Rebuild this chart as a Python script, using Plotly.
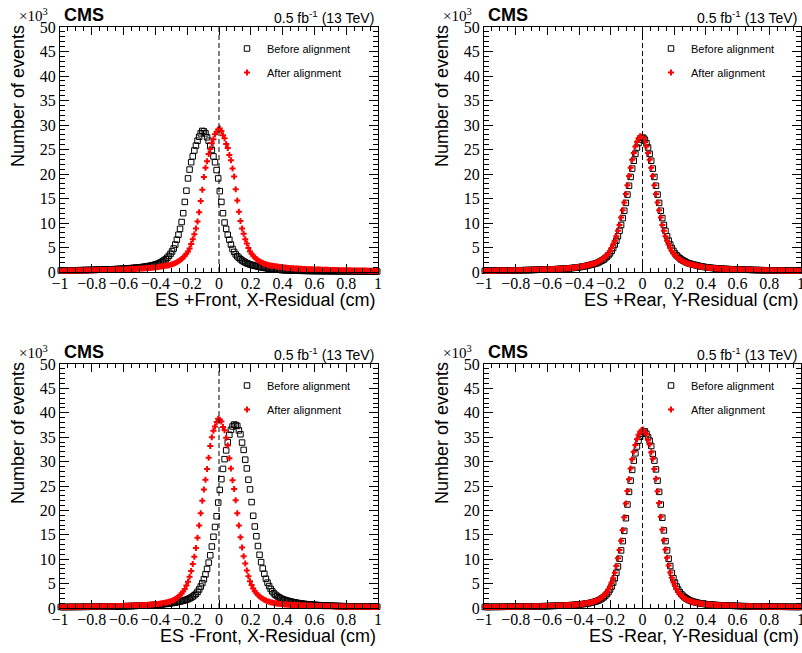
import plotly.graph_objects as go

# ---------------- data (events per 0.01 cm bin, in units of 10^3) ----------------
N_BINS = 200
X_MIN, X_MAX = -1.0, 1.0
bin_centers = [round(X_MIN + (i + 0.5) * (X_MAX - X_MIN) / N_BINS, 4) for i in range(N_BINS)]

x_titles = ["ES +Front, X-Residual (cm)", "ES +Rear, Y-Residual (cm)",
            "ES -Front, X-Residual (cm)", "ES -Rear, Y-Residual (cm)"]
series_names = ["Before alignment", "After alignment"]
y_tick_vals = [0, 5, 10, 15, 20, 25, 30, 35, 40, 45, 50]

before_front_plus = [
    0.30, 0.31, 0.30, 0.32, 0.32, 0.33, 0.34, 0.33, 0.35, 0.35,
    0.36, 0.37, 0.37, 0.38, 0.39, 0.39, 0.40, 0.41, 0.42, 0.42,
    0.43, 0.44, 0.45, 0.46, 0.47, 0.48, 0.49, 0.50, 0.51, 0.52,
    0.53, 0.54, 0.55, 0.57, 0.58, 0.60, 0.61, 0.63, 0.65, 0.67,
    0.69, 0.71, 0.73, 0.75, 0.78, 0.81, 0.84, 0.87, 0.90, 0.93,
    0.96, 1.00, 1.04, 1.09, 1.14, 1.19, 1.25, 1.32, 1.39, 1.48,
    1.58, 1.68, 1.82, 1.97, 2.17, 2.37, 2.62, 2.92, 3.28, 3.70,
    4.2, 4.8, 5.6, 6.6, 7.6, 8.8, 10.2, 12.0, 14.3, 16.6,
    19.1, 20.9, 22.4, 23.6, 24.8, 25.8, 26.8, 27.6, 28.3, 28.8,
    28.7, 28.3, 27.5, 26.8, 25.8, 24.9, 23.6, 22.4, 20.8, 19.1,
    16.5, 14.3, 12.0, 10.1, 8.8, 7.6, 6.6, 5.6, 4.7, 4.1,
    3.6, 3.2, 2.9, 2.6, 2.35, 2.15, 1.95, 1.80, 1.66, 1.55,
    1.45, 1.35, 1.27, 1.20, 1.12, 1.05, 0.98, 0.92, 0.86, 0.80,
    0.75, 0.70, 0.65, 0.60, 0.56, 0.52, 0.49, 0.46, 0.43, 0.40,
    0.38, 0.36, 0.34, 0.32, 0.31, 0.30, 0.29, 0.28, 0.27, 0.26,
    0.25, 0.25, 0.24, 0.23, 0.23, 0.22, 0.22, 0.21, 0.21, 0.20,
    0.20, 0.20, 0.19, 0.19, 0.19, 0.18, 0.18, 0.18, 0.17, 0.17,
    0.17, 0.17, 0.16, 0.16, 0.16, 0.16, 0.15, 0.15, 0.15, 0.15,
    0.15, 0.14, 0.14, 0.14, 0.14, 0.14, 0.13, 0.13, 0.13, 0.13,
    0.13, 0.13, 0.12, 0.12, 0.12, 0.12, 0.12, 0.12, 0.11, 0.11,
]
after_front_plus = [
    0.26, 0.27, 0.26, 0.28, 0.27, 0.28, 0.29, 0.28, 0.29, 0.30,
    0.30, 0.31, 0.32, 0.31, 0.33, 0.32, 0.34, 0.33, 0.35, 0.35,
    0.36, 0.37, 0.37, 0.38, 0.39, 0.39, 0.40, 0.41, 0.42, 0.42,
    0.43, 0.44, 0.45, 0.46, 0.47, 0.48, 0.49, 0.50, 0.51, 0.52,
    0.53, 0.55, 0.56, 0.57, 0.59, 0.60, 0.62, 0.63, 0.65, 0.67,
    0.69, 0.71, 0.73, 0.76, 0.78, 0.81, 0.84, 0.87, 0.90, 0.93,
    0.97, 1.00, 1.05, 1.10, 1.15, 1.20, 1.27, 1.33, 1.40, 1.50,
    1.60, 1.70, 1.85, 2.00, 2.20, 2.40, 2.65, 2.95, 3.30, 3.70,
    4.2, 4.8, 5.7, 6.7, 7.7, 8.9, 10.3, 12.2, 14.5, 16.8,
    19.4, 21.3, 22.6, 24.1, 25.1, 26.3, 27.1, 28.1, 28.6, 29.1,
    29.3, 28.8, 27.9, 27.3, 26.1, 25.3, 23.9, 22.8, 21.1, 19.5,
    16.9, 14.6, 12.3, 10.4, 8.9, 7.8, 6.7, 5.8, 4.9, 4.2,
    3.7, 3.3, 2.95, 2.65, 2.40, 2.20, 2.00, 1.85, 1.70, 1.60,
    1.50, 1.40, 1.33, 1.27, 1.20, 1.15, 1.10, 1.05, 1.00, 0.97,
    0.93, 0.90, 0.87, 0.84, 0.81, 0.78, 0.76, 0.73, 0.71, 0.69,
    0.67, 0.65, 0.63, 0.62, 0.60, 0.58, 0.57, 0.56, 0.54, 0.53,
    0.52, 0.51, 0.50, 0.49, 0.48, 0.47, 0.46, 0.45, 0.44, 0.43,
    0.42, 0.41, 0.41, 0.40, 0.39, 0.38, 0.38, 0.37, 0.36, 0.36,
    0.35, 0.34, 0.34, 0.33, 0.33, 0.32, 0.32, 0.31, 0.31, 0.30,
    0.30, 0.29, 0.29, 0.28, 0.28, 0.28, 0.27, 0.27, 0.26, 0.26,
]
before_rear_plus = [
    0.25, 0.26, 0.26, 0.26, 0.27, 0.27, 0.28, 0.28, 0.28, 0.29,
    0.29, 0.30, 0.30, 0.31, 0.31, 0.32, 0.32, 0.33, 0.34, 0.34,
    0.35, 0.35, 0.36, 0.37, 0.37, 0.38, 0.39, 0.40, 0.40, 0.41,
    0.42, 0.43, 0.44, 0.45, 0.46, 0.47, 0.48, 0.49, 0.50, 0.51,
    0.52, 0.53, 0.54, 0.56, 0.57, 0.59, 0.60, 0.62, 0.64, 0.66,
    0.68, 0.70, 0.73, 0.75, 0.78, 0.81, 0.84, 0.87, 0.91, 0.95,
    1.00, 1.06, 1.12, 1.18, 1.25, 1.32, 1.40, 1.47, 1.55, 1.65,
    1.75, 1.85, 2.00, 2.20, 2.35, 2.55, 2.80, 3.10, 3.40, 3.80,
    4.3, 4.9, 5.6, 6.4, 7.3, 8.4, 9.6, 11.0, 12.5, 14.1,
    15.8, 17.6, 19.4, 21.1, 22.7, 24.1, 25.4, 26.3, 27.0, 27.4,
    27.4, 27.0, 26.3, 25.4, 24.1, 22.7, 21.1, 19.4, 17.6, 15.8,
    14.1, 12.5, 11.0, 9.6, 8.4, 7.3, 6.4, 5.6, 4.9, 4.3,
    3.80, 3.40, 3.10, 2.80, 2.55, 2.35, 2.20, 2.00, 1.85, 1.75,
    1.65, 1.55, 1.47, 1.40, 1.32, 1.25, 1.18, 1.12, 1.06, 1.00,
    0.95, 0.91, 0.87, 0.84, 0.81, 0.78, 0.75, 0.73, 0.70, 0.68,
    0.66, 0.64, 0.62, 0.60, 0.59, 0.57, 0.56, 0.54, 0.53, 0.52,
    0.51, 0.50, 0.49, 0.48, 0.47, 0.46, 0.45, 0.44, 0.43, 0.42,
    0.41, 0.40, 0.40, 0.39, 0.38, 0.37, 0.37, 0.36, 0.35, 0.35,
    0.34, 0.34, 0.33, 0.32, 0.32, 0.31, 0.31, 0.30, 0.30, 0.29,
    0.29, 0.28, 0.28, 0.28, 0.27, 0.27, 0.26, 0.26, 0.26, 0.25,
]
after_rear_plus = [
    0.26, 0.26, 0.26, 0.27, 0.27, 0.28, 0.28, 0.28, 0.29, 0.29,
    0.30, 0.30, 0.31, 0.31, 0.32, 0.32, 0.33, 0.34, 0.34, 0.35,
    0.35, 0.36, 0.37, 0.37, 0.38, 0.39, 0.40, 0.40, 0.41, 0.42,
    0.43, 0.44, 0.45, 0.46, 0.47, 0.48, 0.49, 0.50, 0.51, 0.52,
    0.53, 0.54, 0.56, 0.57, 0.59, 0.60, 0.62, 0.64, 0.66, 0.68,
    0.70, 0.73, 0.75, 0.78, 0.81, 0.84, 0.87, 0.91, 0.95, 1.00,
    1.06, 1.12, 1.18, 1.25, 1.32, 1.40, 1.47, 1.55, 1.65, 1.75,
    1.85, 2.00, 2.20, 2.35, 2.55, 2.80, 3.10, 3.40, 3.80, 4.30,
    4.9, 5.6, 6.4, 7.3, 8.4, 9.6, 11.1, 12.6, 14.2, 15.9,
    17.7, 19.6, 21.3, 22.9, 24.3, 25.6, 26.6, 27.3, 27.7, 27.6,
    27.3, 26.6, 25.6, 24.3, 22.9, 21.3, 19.6, 17.7, 15.9, 14.2,
    12.6, 11.1, 9.6, 8.4, 7.3, 6.4, 5.6, 4.9, 4.3, 3.8,
    3.40, 3.10, 2.80, 2.55, 2.35, 2.20, 2.00, 1.85, 1.75, 1.65,
    1.55, 1.47, 1.40, 1.32, 1.25, 1.18, 1.12, 1.06, 1.00, 0.95,
    0.91, 0.87, 0.84, 0.81, 0.78, 0.75, 0.73, 0.70, 0.68, 0.66,
    0.64, 0.62, 0.60, 0.59, 0.57, 0.56, 0.54, 0.53, 0.52, 0.51,
    0.50, 0.49, 0.48, 0.47, 0.46, 0.45, 0.44, 0.43, 0.42, 0.41,
    0.40, 0.40, 0.39, 0.38, 0.37, 0.37, 0.36, 0.35, 0.35, 0.34,
    0.34, 0.33, 0.32, 0.32, 0.31, 0.31, 0.30, 0.30, 0.29, 0.29,
    0.28, 0.28, 0.28, 0.27, 0.27, 0.26, 0.26, 0.26, 0.25, 0.25,
]
before_front_minus = [
    0.20, 0.20, 0.20, 0.20, 0.21, 0.21, 0.21, 0.21, 0.22, 0.22,
    0.22, 0.22, 0.23, 0.23, 0.23, 0.24, 0.24, 0.24, 0.25, 0.25,
    0.25, 0.26, 0.26, 0.26, 0.27, 0.27, 0.28, 0.28, 0.29, 0.29,
    0.30, 0.30, 0.31, 0.31, 0.32, 0.33, 0.33, 0.34, 0.35, 0.36,
    0.36, 0.37, 0.38, 0.39, 0.40, 0.41, 0.42, 0.44, 0.45, 0.46,
    0.47, 0.49, 0.50, 0.52, 0.53, 0.55, 0.57, 0.59, 0.61, 0.63,
    0.66, 0.68, 0.71, 0.74, 0.77, 0.80, 0.84, 0.88, 0.92, 0.97,
    1.02, 1.08, 1.14, 1.20, 1.27, 1.34, 1.42, 1.50, 1.60, 1.70,
    1.82, 1.97, 2.15, 2.35, 2.60, 2.90, 3.30, 3.80, 4.40, 5.10,
    5.9, 6.9, 8.0, 9.3, 10.8, 12.6, 14.6, 16.6, 18.8, 21.6,
    24.2, 26.4, 28.5, 30.5, 32.3, 34.0, 35.5, 36.5, 37.2, 37.6,
    37.5, 37.3, 36.4, 35.6, 33.9, 32.4, 30.4, 28.6, 26.3, 24.3,
    21.7, 18.9, 16.7, 14.7, 12.7, 10.9, 9.4, 8.1, 7.0, 6.0,
    5.2, 4.5, 3.9, 3.4, 3.0, 2.7, 2.45, 2.22, 2.03, 1.87,
    1.74, 1.63, 1.53, 1.44, 1.36, 1.28, 1.21, 1.15, 1.09, 1.03,
    0.97, 0.92, 0.88, 0.84, 0.80, 0.77, 0.74, 0.71, 0.68, 0.66,
    0.63, 0.61, 0.59, 0.57, 0.55, 0.53, 0.52, 0.50, 0.49, 0.47,
    0.46, 0.45, 0.44, 0.42, 0.41, 0.40, 0.39, 0.38, 0.37, 0.36,
    0.36, 0.35, 0.34, 0.33, 0.33, 0.32, 0.31, 0.31, 0.30, 0.30,
    0.29, 0.29, 0.28, 0.28, 0.27, 0.27, 0.26, 0.26, 0.26, 0.25,
]
after_front_minus = [
    0.22, 0.22, 0.23, 0.23, 0.23, 0.24, 0.24, 0.24, 0.25, 0.25,
    0.25, 0.26, 0.26, 0.27, 0.27, 0.27, 0.28, 0.28, 0.29, 0.29,
    0.30, 0.30, 0.31, 0.31, 0.32, 0.32, 0.33, 0.33, 0.34, 0.35,
    0.35, 0.36, 0.37, 0.38, 0.38, 0.39, 0.40, 0.41, 0.42, 0.43,
    0.44, 0.45, 0.46, 0.47, 0.48, 0.49, 0.51, 0.52, 0.53, 0.55,
    0.56, 0.58, 0.60, 0.62, 0.64, 0.66, 0.68, 0.71, 0.74, 0.77,
    0.80, 0.84, 0.88, 0.93, 0.98, 1.04, 1.11, 1.19, 1.28, 1.38,
    1.50, 1.65, 1.85, 2.05, 2.30, 2.60, 2.95, 3.40, 3.90, 4.60,
    5.4, 6.4, 7.6, 9.0, 10.5, 12.3, 14.4, 16.9, 19.4, 22.0,
    24.3, 26.3, 28.5, 30.8, 33.2, 35.0, 36.3, 37.2, 38.1, 38.8,
    38.6, 38.2, 37.1, 36.4, 34.9, 33.3, 30.7, 28.6, 26.2, 24.4,
    22.1, 19.4, 16.9, 14.5, 12.4, 10.6, 9.1, 7.7, 6.5, 5.5,
    4.7, 4.0, 3.45, 3.00, 2.65, 2.35, 2.10, 1.88, 1.68, 1.52,
    1.40, 1.29, 1.20, 1.12, 1.05, 0.99, 0.94, 0.89, 0.84, 0.80,
    0.77, 0.74, 0.71, 0.68, 0.66, 0.64, 0.62, 0.60, 0.58, 0.56,
    0.55, 0.53, 0.52, 0.51, 0.49, 0.48, 0.47, 0.46, 0.45, 0.44,
    0.43, 0.42, 0.41, 0.40, 0.39, 0.38, 0.38, 0.37, 0.36, 0.35,
    0.35, 0.34, 0.33, 0.33, 0.32, 0.32, 0.31, 0.31, 0.30, 0.30,
    0.29, 0.29, 0.28, 0.28, 0.27, 0.27, 0.27, 0.26, 0.26, 0.25,
    0.25, 0.25, 0.24, 0.24, 0.24, 0.23, 0.23, 0.23, 0.22, 0.22,
]
before_rear_minus = [
    0.21, 0.21, 0.21, 0.22, 0.22, 0.22, 0.22, 0.23, 0.23, 0.23,
    0.24, 0.24, 0.24, 0.25, 0.25, 0.25, 0.26, 0.26, 0.27, 0.27,
    0.27, 0.28, 0.28, 0.29, 0.29, 0.30, 0.30, 0.31, 0.31, 0.32,
    0.32, 0.33, 0.34, 0.34, 0.35, 0.36, 0.37, 0.37, 0.38, 0.39,
    0.40, 0.41, 0.42, 0.43, 0.44, 0.45, 0.46, 0.48, 0.49, 0.50,
    0.52, 0.53, 0.55, 0.57, 0.59, 0.61, 0.63, 0.65, 0.68, 0.71,
    0.74, 0.77, 0.81, 0.85, 0.90, 0.95, 1.01, 1.08, 1.16, 1.25,
    1.35, 1.46, 1.60, 1.78, 1.98, 2.20, 2.50, 2.85, 3.25, 3.80,
    4.4, 5.2, 6.1, 7.2, 8.5, 10.1, 11.8, 13.7, 15.8, 18.4,
    21.2, 23.8, 26.1, 28.3, 30.2, 31.7, 33.1, 34.3, 35.1, 35.7,
    36.1, 36.2, 35.7, 35.0, 34.3, 33.2, 31.6, 30.2, 28.4, 26.1,
    23.8, 21.2, 18.5, 15.9, 13.7, 11.8, 10.1, 8.6, 7.2, 6.1,
    5.2, 4.4, 3.8, 3.25, 2.85, 2.50, 2.20, 1.98, 1.78, 1.60,
    1.46, 1.35, 1.25, 1.16, 1.08, 1.01, 0.95, 0.90, 0.85, 0.81,
    0.77, 0.74, 0.71, 0.68, 0.65, 0.63, 0.61, 0.59, 0.57, 0.55,
    0.53, 0.52, 0.50, 0.49, 0.48, 0.46, 0.45, 0.44, 0.43, 0.42,
    0.41, 0.40, 0.39, 0.38, 0.37, 0.37, 0.36, 0.35, 0.34, 0.34,
    0.33, 0.32, 0.32, 0.31, 0.31, 0.30, 0.30, 0.29, 0.29, 0.28,
    0.28, 0.27, 0.27, 0.27, 0.26, 0.26, 0.25, 0.25, 0.25, 0.24,
    0.24, 0.24, 0.23, 0.23, 0.23, 0.22, 0.22, 0.22, 0.22, 0.21,
]
after_rear_minus = [
    0.21, 0.21, 0.22, 0.22, 0.22, 0.22, 0.23, 0.23, 0.23, 0.24,
    0.24, 0.24, 0.25, 0.25, 0.25, 0.26, 0.26, 0.27, 0.27, 0.27,
    0.28, 0.28, 0.29, 0.29, 0.30, 0.30, 0.31, 0.31, 0.32, 0.32,
    0.33, 0.34, 0.34, 0.35, 0.36, 0.37, 0.37, 0.38, 0.39, 0.40,
    0.41, 0.42, 0.43, 0.44, 0.45, 0.46, 0.48, 0.49, 0.50, 0.52,
    0.53, 0.55, 0.57, 0.59, 0.61, 0.63, 0.65, 0.68, 0.71, 0.74,
    0.77, 0.81, 0.85, 0.90, 0.95, 1.01, 1.08, 1.16, 1.25, 1.35,
    1.46, 1.60, 1.78, 1.98, 2.20, 2.50, 2.85, 3.25, 3.80, 4.40,
    5.2, 6.1, 7.2, 8.6, 10.2, 11.9, 13.8, 16.0, 18.6, 21.4,
    24.0, 26.4, 28.6, 30.5, 32.0, 33.4, 34.6, 35.5, 36.1, 36.5,
    36.6, 36.0, 35.6, 34.5, 33.5, 31.9, 30.6, 28.5, 26.5, 23.9,
    21.5, 18.7, 16.1, 13.9, 12.0, 10.3, 8.7, 7.3, 6.2, 5.3,
    4.5, 3.85, 3.30, 2.90, 2.55, 2.25, 2.00, 1.80, 1.62, 1.48,
    1.36, 1.26, 1.17, 1.09, 1.02, 0.96, 0.91, 0.86, 0.82, 0.78,
    0.74, 0.71, 0.68, 0.65, 0.63, 0.61, 0.59, 0.57, 0.55, 0.53,
    0.52, 0.50, 0.49, 0.48, 0.46, 0.45, 0.44, 0.43, 0.42, 0.41,
    0.40, 0.39, 0.38, 0.37, 0.37, 0.36, 0.35, 0.34, 0.34, 0.33,
    0.32, 0.32, 0.31, 0.31, 0.30, 0.30, 0.29, 0.29, 0.28, 0.28,
    0.27, 0.27, 0.27, 0.26, 0.26, 0.25, 0.25, 0.25, 0.24, 0.24,
    0.24, 0.23, 0.23, 0.23, 0.22, 0.22, 0.22, 0.22, 0.21, 0.21,
]

panel_before = [before_front_plus, before_rear_plus, before_front_minus, before_rear_minus]
panel_after = [after_front_plus, after_rear_plus, after_front_minus, after_rear_minus]

# ---------------- layout geometry (pixels) ----------------
W, H = 802, 653
boxes = [(60, 378, 27, 272), (484, 801, 27, 272), (60, 378, 364, 608), (484, 801, 364, 608)]


def px(x):
    return x / W


def py(y):
    return 1 - y / H


fig = go.Figure()
layout = dict(
    width=W, height=H, autosize=False,
    margin=dict(l=0, r=0, t=0, b=0),
    paper_bgcolor="white", plot_bgcolor="white",
    showlegend=True,
)
annotations = []
shapes = []
SERIF = "Liberation Serif, Times New Roman, serif"
SANS = "Liberation Sans, Arial, sans-serif"

for p, (x0, x1, y0, y1) in enumerate(boxes):
    n = "" if p == 0 else str(p + 1)
    xa, ya = "x" + n, "y" + n
    lg = "legend" + n
    common = dict(
        showline=True, linecolor="black", linewidth=1, mirror="ticks",
        ticks="inside", tickcolor="black", tickwidth=1,
        showgrid=False, zeroline=False, automargin=False,
        ticklabeloverflow="allow",
        tickfont=dict(family=SERIF, size=16, color="black"),
    )
    layout["xaxis" + n] = dict(
        common, domain=[px(x0), px(x1)], anchor=ya, range=[X_MIN, X_MAX],
        tick0=0, dtick=0.2, ticklen=8, ticklabelstandoff=-3,
        minor=dict(dtick=0.05, tick0=0, ticklen=4, ticks="inside", tickcolor="black", showgrid=False),
    )
    layout["yaxis" + n] = dict(
        common, domain=[py(y1), py(y0)], anchor=xa, range=[0, 50],
        tickvals=y_tick_vals, ticklen=9,
        minor=dict(dtick=1, tick0=0, ticklen=5, ticks="inside", tickcolor="black", showgrid=False),
    )
    layout[lg] = dict(
        x=px(x0 + 167), y=py(y0 + 7), xanchor="left", yanchor="top",
        bgcolor="rgba(0,0,0,0)", borderwidth=0, traceorder="grouped",
        font=dict(family=SANS, size=11, color="black"),
        itemwidth=30, tracegroupgap=5,
    )
    fig.add_trace(go.Scatter(
        x=bin_centers, y=panel_before[p], mode="markers", name=series_names[0],
        xaxis=xa, yaxis=ya, legend=lg, legendgroup="b" + n, cliponaxis=False,
        marker=dict(symbol="square-open", size=5.5, color="black", line=dict(width=1, color="black")),
    ))
    fig.add_trace(go.Scatter(
        x=bin_centers, y=panel_after[p], mode="markers", name=series_names[1],
        xaxis=xa, yaxis=ya, legend=lg, legendgroup="a" + n, cliponaxis=False,
        marker=dict(symbol="cross", size=5, color="red", line=dict(width=0)),
    ))
    # dashed line at zero
    shapes.append(dict(type="line", xref=xa, yref=ya, x0=0, x1=0, y0=0, y1=50,
                       line=dict(color="black", width=1, dash="5px,3px")))
    # texts
    annotations.append(dict(text="<b>CMS</b>", x=px(x0 + 2), y=py(y0 - 12), xref="paper", yref="paper",
                            xanchor="left", yanchor="middle", showarrow=False,
                            font=dict(family=SANS, size=18, color="black")))
    annotations.append(dict(text="0.5 fb<sup>-1</sup> (13 TeV)", x=px(x1 - 2), y=py(y0 - 10), xref="paper",
                            yref="paper", xanchor="right", yanchor="middle", showarrow=False,
                            font=dict(family=SANS, size=14, color="black")))
    annotations.append(dict(text="×10<sup>3</sup>", x=px(x0 - 10), y=py(y0 - 12), xref="paper", yref="paper",
                            xanchor="right", yanchor="middle", showarrow=False,
                            font=dict(family=SERIF, size=15, color="black")))
    annotations.append(dict(text=x_titles[p], x=px(x1), y=py(y1 + 28), xref="paper", yref="paper",
                            xanchor="right", yanchor="middle", showarrow=False,
                            font=dict(family=SANS, size=18, color="black")))
    annotations.append(dict(text="Number of events", x=px(x0 - 42), y=py(y0 + 69), xref="paper", yref="paper",
                            xanchor="center", yanchor="middle", textangle=-90, showarrow=False,
                            font=dict(family=SANS, size=18, color="black")))

layout["annotations"] = annotations
layout["shapes"] = shapes
fig.update_layout(**layout)
fig.write_html(
    "out.html",
    config={"displayModeBar": False},
    post_script="document.body.style.margin='0';document.body.style.padding='0';"
                "document.body.style.overflow='hidden';",
)
